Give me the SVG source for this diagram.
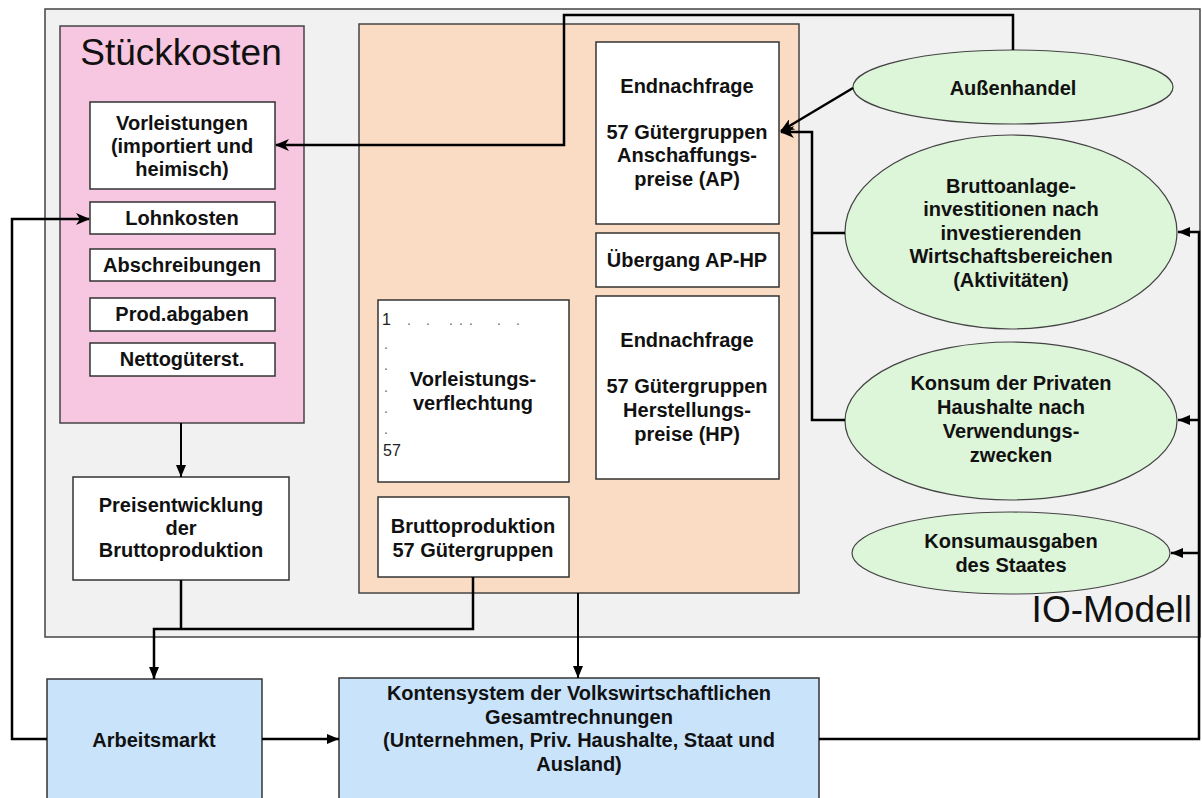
<svg xmlns="http://www.w3.org/2000/svg" width="1202" height="798" viewBox="0 0 1202 798">
<defs>
<style>
.t{font-family:"Liberation Sans",Arial,sans-serif;font-weight:bold;font-size:20px;fill:#111;text-anchor:middle}
.big{font-family:"Liberation Sans",Arial,sans-serif;font-size:37px;fill:#111}
.sm{font-family:"Liberation Sans",Arial,sans-serif;font-size:16px;fill:#222}
.dot{font-family:"Liberation Sans",Arial,sans-serif;font-size:14px;fill:#666}
.box{fill:#fff;stroke:#333;stroke-width:1.5}
.ell{fill:#ddf5d9;stroke:#444;stroke-width:1.2}
.blue{fill:#c9e3fb;stroke:#333;stroke-width:1.5}
.c{fill:none;stroke:#000;stroke-width:2.5}
.c2{fill:none;stroke:#000;stroke-width:2}
</style>
<marker id="a" markerUnits="userSpaceOnUse" markerWidth="14" markerHeight="12" refX="13" refY="6" orient="auto">
<path d="M0,0 L14,6 L0,12 L4,6 z" fill="#000"/>
</marker>
<marker id="b" markerUnits="userSpaceOnUse" markerWidth="12" markerHeight="10" refX="12" refY="5" orient="auto">
<path d="M0,0 L12,5 L0,10 z" fill="#000"/>
</marker>
</defs>
<rect width="1202" height="798" fill="#fff"/>
<g id="io-modell">
<rect x="45" y="9" width="1155" height="628" fill="#f1f1f1" stroke="#444" stroke-width="1.5"/>
<text class="big" x="1192" y="622" text-anchor="end">IO-Modell</text>
</g>
<g id="stueckkosten">
<rect x="60" y="26" width="244" height="397" fill="#f7c6e0" stroke="#444" stroke-width="1.5"/>
<text class="big" x="181" y="65" text-anchor="middle">Stückkosten</text>
</g>
<g id="vorleistungen">
<rect class="box" x="90" y="102" width="185" height="87"/>
<text class="t" x="182" y="130">Vorleistungen</text>
<text class="t" x="182" y="153">(importiert und</text>
<text class="t" x="182" y="176">heimisch)</text>
</g>
<g id="lohnkosten">
<rect class="box" x="90" y="202" width="185" height="32"/>
<text class="t" x="182" y="225">Lohnkosten</text>
</g>
<g id="abschreibungen">
<rect class="box" x="90" y="249" width="185" height="32"/>
<text class="t" x="182" y="272">Abschreibungen</text>
</g>
<g id="prodabgaben">
<rect class="box" x="90" y="298" width="185" height="33"/>
<text class="t" x="182" y="321">Prod.abgaben</text>
</g>
<g id="nettogueterst">
<rect class="box" x="90" y="343" width="185" height="33"/>
<text class="t" x="182" y="366">Nettogüterst.</text>
</g>
<g id="io-tabelle">
<rect x="359" y="24" width="440" height="569" fill="#f9dcc3" stroke="#444" stroke-width="1.5"/>
</g>
<g id="endnachfrage-ap">
<rect class="box" x="596" y="42" width="183" height="182"/>
<text class="t" x="687" y="93">Endnachfrage</text>
<text class="t" x="687" y="139">57 Gütergruppen</text>
<text class="t" x="687" y="162">Anschaffungs-</text>
<text class="t" x="687" y="186">preise (AP)</text>
</g>
<g id="uebergang">
<rect class="box" x="596" y="233" width="183" height="54"/>
<text class="t" x="687" y="267">Übergang AP-HP</text>
</g>
<g id="endnachfrage-hp">
<rect class="box" x="596" y="296" width="183" height="183"/>
<text class="t" x="687" y="347">Endnachfrage</text>
<text class="t" x="687" y="393">57 Gütergruppen</text>
<text class="t" x="687" y="417">Herstellungs-</text>
<text class="t" x="687" y="441">preise (HP)</text>
</g>
<g id="vorleistungsverflechtung">
<rect class="box" x="378" y="300" width="191" height="182"/>
<text class="sm" x="382" y="325">1</text>
<text class="dot" x="407" y="325">.</text>
<text class="dot" x="426" y="325">.</text>
<text class="dot" x="449" y="325">.</text>
<text class="dot" x="459" y="325">.</text>
<text class="dot" x="469" y="325">.</text>
<text class="dot" x="497" y="325">.</text>
<text class="dot" x="516" y="325">.</text>
<text class="dot" x="384" y="349">.</text>
<text class="dot" x="384" y="370">.</text>
<text class="dot" x="384" y="392">.</text>
<text class="dot" x="384" y="413">.</text>
<text class="dot" x="384" y="434">.</text>
<text class="sm" x="383" y="456">57</text>
<text class="t" x="473" y="386">Vorleistungs-</text>
<text class="t" x="473" y="410">verflechtung</text>
</g>
<g id="bruttoproduktion">
<rect class="box" x="378" y="497" width="191" height="80"/>
<text class="t" x="473" y="533">Bruttoproduktion</text>
<text class="t" x="473" y="557">57 Gütergruppen</text>
</g>
<g id="preisentwicklung">
<rect class="box" x="73" y="477" width="216" height="103"/>
<text class="t" x="181" y="512">Preisentwicklung</text>
<text class="t" x="181" y="535">der</text>
<text class="t" x="181" y="557">Bruttoproduktion</text>
</g>
<g id="aussenhandel">
<ellipse class="ell" cx="1013" cy="87" rx="160" ry="37"/>
<text class="t" x="1013" y="95">Außenhandel</text>
</g>
<g id="bruttoanlage">
<ellipse class="ell" cx="1011" cy="232" rx="166" ry="97"/>
<text class="t" x="1011" y="193">Bruttoanlage-</text>
<text class="t" x="1011" y="216">investitionen nach</text>
<text class="t" x="1011" y="240">investierenden</text>
<text class="t" x="1011" y="263">Wirtschaftsbereichen</text>
<text class="t" x="1011" y="287">(Aktivitäten)</text>
</g>
<g id="konsum">
<ellipse class="ell" cx="1011" cy="421" rx="166" ry="79"/>
<text class="t" x="1011" y="390">Konsum der Privaten</text>
<text class="t" x="1011" y="414">Haushalte nach</text>
<text class="t" x="1011" y="438">Verwendungs-</text>
<text class="t" x="1011" y="462">zwecken</text>
</g>
<g id="konsumausgaben">
<ellipse class="ell" cx="1011" cy="553" rx="159" ry="41"/>
<text class="t" x="1011" y="548">Konsumausgaben</text>
<text class="t" x="1011" y="572">des Staates</text>
</g>
<g id="arbeitsmarkt">
<rect class="blue" x="47" y="679" width="215" height="125"/>
<text class="t" x="154" y="747">Arbeitsmarkt</text>
</g>
<g id="kontensystem">
<rect class="blue" x="339" y="678" width="480" height="126"/>
<text class="t" x="579" y="700">Kontensystem der Volkswirtschaftlichen</text>
<text class="t" x="579" y="724">Gesamtrechnungen</text>
<text class="t" x="579" y="747">(Unternehmen, Priv. Haushalte,  Staat und</text>
<text class="t" x="579" y="771">Ausland)</text>
</g>
<g id="connectors">
<path class="c" d="M1013,50 V15 H564 V145 H276" marker-end="url(#a)"/>
<path class="c" d="M853,88 L781,131" marker-end="url(#a)"/>
<path class="c" d="M845,233 H812"/>
<path class="c" d="M845,420 H812 V132 H781" marker-end="url(#a)"/>
<path class="c2" d="M181,423 V477" marker-end="url(#b)"/>
<path class="c" d="M181,580 V629"/>
<path class="c" d="M473,577 V629 H154 V679" marker-end="url(#b)"/>
<path class="c2" d="M578,593 V678" marker-end="url(#b)"/>
<path class="c" d="M262,739 H339" marker-end="url(#b)"/>
<path class="c" d="M47,739 H12 V219 H89" marker-end="url(#a)"/>
<path class="c" d="M819,739 H1199 V232 H1178" marker-end="url(#b)"/>
<path class="c" d="M1199,420 H1178" marker-end="url(#b)"/>
<path class="c" d="M1199,553 H1171" marker-end="url(#b)"/>
</g>
</svg>
